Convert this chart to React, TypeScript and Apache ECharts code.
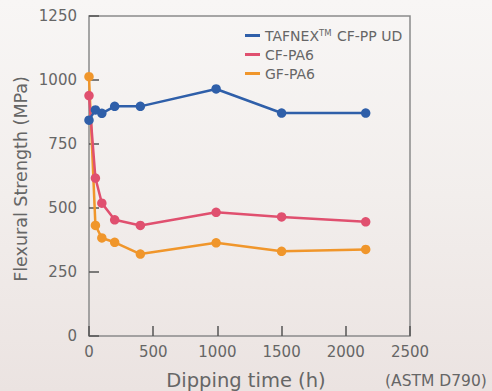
import React, { useEffect, useRef } from "react";
import * as echarts from "echarts";

const hours = [0, 50, 100, 200, 400, 990, 1500, 2155];
const tafnex = [843, 883, 870, 897, 897, 965, 871, 871];
const cfpa6 = [939, 617, 519, 454, 432, 483, 465, 446];
const gfpa6 = [1013, 432, 383, 366, 320, 364, 331, 338];
const seriesNames = ["TAFNEX CF-PP UD", "CF-PA6", "GF-PA6"];
const colors = ["#2f5fa9", "#e0506f", "#f0962b"];
const yTicks = { min: 0, max: 1250, interval: 250 };
const xTicks = { min: 0, max: 2500, interval: 500 };

const FONT = "'DejaVu Sans'";

export default function App() {
  const ref = useRef<HTMLDivElement>(null);
  useEffect(() => {
    if (!ref.current) return;
    const chart = echarts.init(ref.current, null, { renderer: "svg" });
    const values = [tafnex, cfpa6, gfpa6];
    chart.setOption({
      animation: false,
      backgroundColor: "transparent",
      grid: {
        left: 89,
        top: 16,
        right: 82,
        bottom: 55,
        show: true,
        borderColor: "#8a8a8a",
        borderWidth: 1.5,
        backgroundColor: "transparent",
      },
      legend: {
        orient: "vertical",
        left: 240,
        top: 23,
        itemGap: 5,
        itemWidth: 15,
        itemHeight: 3,
        icon: "rect",
        data: seriesNames,
        formatter: (name: string) =>
          name === "TAFNEX CF-PP UD" ? "{a|TAFNEX}{s|TM}{a| CF-PP UD}" : "{a|" + name + "}",
        textStyle: {
          color: "#666",
          fontFamily: FONT,
          fontSize: 14,
          rich: {
            a: { color: "#666", fontFamily: FONT, fontSize: 14, lineHeight: 15 },
            s: { color: "#666", fontFamily: FONT, fontSize: 8.5, lineHeight: 15, verticalAlign: "top", padding: [0, 1, 0, 0] },
          },
        },
      },
      xAxis: {
        type: "value",
        ...xTicks,
        axisLine: { show: false },
        splitLine: { show: false },
        axisTick: { show: true, inside: true, length: 10, lineStyle: { color: "#555", width: 1.5 } },
        axisLabel: { color: "#666", fontFamily: FONT, fontSize: 15, margin: 8, formatter: (v: number) => String(v) },
      },
      yAxis: {
        type: "value",
        ...yTicks,
        axisLine: { show: false },
        splitLine: { show: false },
        axisTick: { show: true, inside: true, length: 10, lineStyle: { color: "#555", width: 1.5 } },
        axisLabel: { color: "#666", fontFamily: FONT, fontSize: 15, margin: 12, formatter: (v: number) => String(v) },
      },
      graphic: [
        {
          type: "text",
          rotation: Math.PI / 2,
          x: 21,
          y: 179,
          style: {
            text: "Flexural Strength (MPa)",
            fill: "#666",
            font: `17.5px ${FONT}`,
            align: "center",
            verticalAlign: "middle",
          },
        },
        {
          type: "text",
          x: 246,
          y: 380,
          style: {
            text: "Dipping time (h)",
            fill: "#666",
            font: `19.5px ${FONT}`,
            align: "center",
            verticalAlign: "middle",
          },
        },
        {
          type: "text",
          x: 385,
          y: 381,
          style: {
            text: "(ASTM D790)",
            fill: "#666",
            font: `15.5px ${FONT}`,
            align: "left",
            verticalAlign: "middle",
          },
        },
      ],
      series: seriesNames.map((name, i) => ({
        name,
        type: "line",
        data: hours.map((h, j) => [h, values[i][j]]),
        color: colors[i],
        lineStyle: { width: 2.5, color: colors[i] },
        itemStyle: { color: colors[i] },
        symbol: "circle",
        symbolSize: 9.5,
        z: 5 - i,
      })),
    });
    return () => chart.dispose();
  }, []);
  return (
    <div
      ref={ref}
      style={{
        position: "fixed",
        left: 0,
        top: 0,
        width: 492,
        height: 391,
        background: "linear-gradient(to bottom, #f8f6f5 0%, #f2eeec 50%, #ebe3e1 100%)",
      }}
    />
  );
}
